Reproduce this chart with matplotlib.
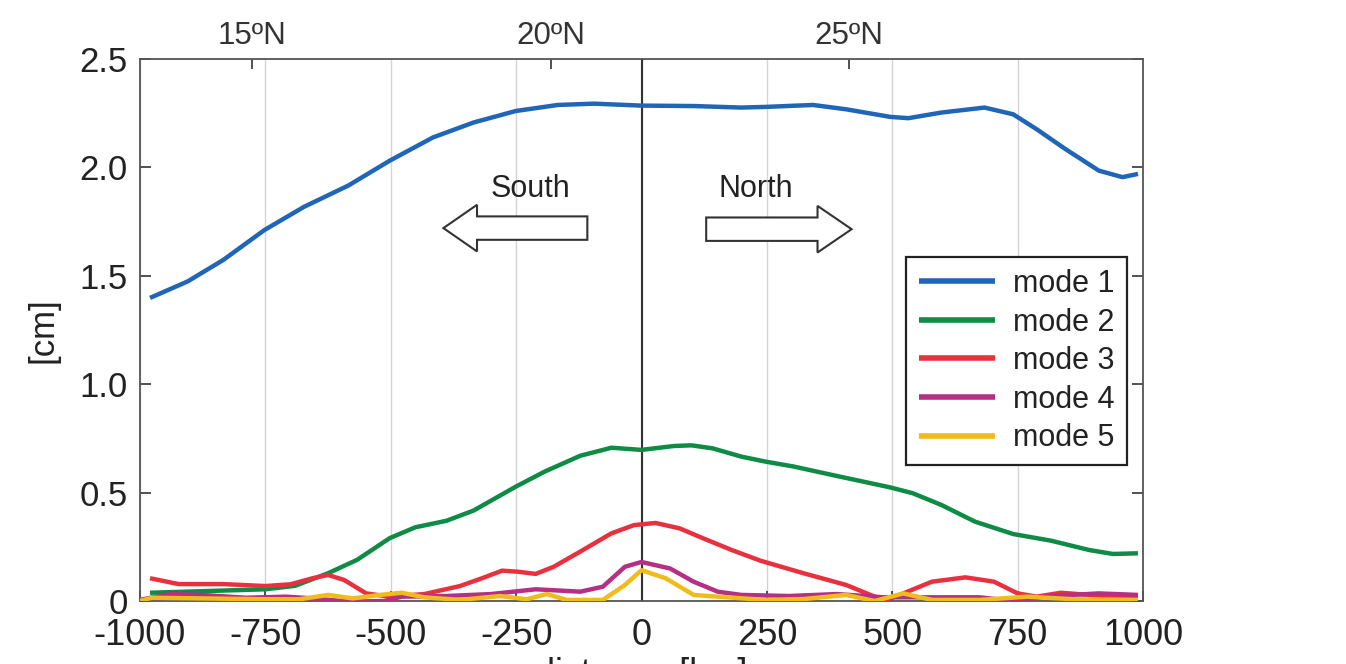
import matplotlib
matplotlib.use("Agg")
import matplotlib.pyplot as plt
from matplotlib.patches import FancyArrow

plt.rcParams["font.family"] = ["Liberation Sans", "DejaVu Sans"]
plt.rcParams["axes.unicode_minus"] = False

# along-track distance (km) and amplitude (cm) of each mode
x1 = [-980, -905, -834, -752, -673, -584, -502, -416, -335, -251, -167, -95, 0,
      104, 199, 247, 342, 408, 496, 532, 598, 684, 741, 788, 845, 912, 959, 990]
mode1 = [1.398, 1.474, 1.573, 1.711, 1.818, 1.917, 2.031, 2.138, 2.207, 2.260, 2.288, 2.294, 2.285,
         2.283, 2.276, 2.279, 2.288, 2.268, 2.233, 2.227, 2.253, 2.276, 2.245, 2.176, 2.085, 1.985, 1.955, 1.970]

x2 = [-980, -750, -691, -625, -567, -502, -451, -389, -335, -251, -193, -122, -60, 0, 65,
      100, 142, 199, 247, 304, 389, 496, 541, 598, 665, 741, 817, 893, 940, 990]
mode2 = [0.038, 0.054, 0.070, 0.128, 0.190, 0.290, 0.340, 0.370, 0.417, 0.527, 0.597, 0.670, 0.707, 0.697, 0.715,
         0.718, 0.704, 0.666, 0.643, 0.620, 0.577, 0.524, 0.497, 0.443, 0.366, 0.309, 0.278, 0.235, 0.217, 0.220]

x3 = [-980, -923, -834, -750, -700, -656, -625, -593, -549, -502, -433, -362, -318, -278, -246, -211,
      -175, -122, -60, -15, 28, 76, 123, 180, 237, 323, 408, 465, 484, 522, 579, 646, 703, 750,
      788, 836, 893, 940, 990]
mode3 = [0.105, 0.078, 0.078, 0.069, 0.077, 0.105, 0.120, 0.097, 0.035, 0.020, 0.032, 0.069, 0.105, 0.140, 0.135, 0.125,
         0.158, 0.228, 0.312, 0.350, 0.360, 0.335, 0.289, 0.235, 0.186, 0.128, 0.074, 0.020, 0.000, 0.035, 0.089, 0.109, 0.089, 0.035,
         0.020, 0.038, 0.028, 0.020, 0.023]

x4 = [-1000, -940, -878, -789, -709, -656, -584, -513, -478, -389, -300, -211, -122, -77, -33, 0,
      57, 104, 152, 199, 294, 389, 484, 579, 674, 741, 817, 912, 990]
mode4 = [0.005, 0.032, 0.028, 0.015, 0.020, 0.012, -0.003, 0.000, 0.020, 0.023, 0.032, 0.054, 0.043, 0.066, 0.158, 0.180,
         0.150, 0.089, 0.043, 0.028, 0.023, 0.032, 0.017, 0.017, 0.017, 0.000, 0.023, 0.035, 0.028]

x5 = [-1000, -976, -878, -745, -682, -625, -576, -522, -478, -433, -362, -282, -229, -189, -149, -77, -33, 0,
      48, 104, 152, 247, 323, 408, 465, 522, 579, 674, 769, 864, 990]
mode5 = [0.000, 0.015, 0.012, 0.008, 0.008, 0.028, 0.012, 0.028, 0.038, 0.017, 0.005, 0.023, 0.008, 0.032, 0.005, 0.005, 0.074, 0.142,
         0.105, 0.028, 0.020, 0.005, 0.009, 0.028, 0.000, 0.035, 0.005, 0.005, 0.020, 0.008, 0.005]

series = [(x1, mode1, "mode 1", "#1f66b8"),
          (x2, mode2, "mode 2", "#0e8c45"),
          (x3, mode3, "mode 3", "#e8313f"),
          (x4, mode4, "mode 4", "#b52f85"),
          (x5, mode5, "mode 5", "#efbc1c")]

xticks = [-1000, -750, -500, -250, 0, 250, 500, 750, 1000]
yticks = [0, 0.5, 1.0, 1.5, 2.0, 2.5]
ytick_labels = ["0", "0.5", "1.0", "1.5", "2.0", "2.5"]
lat_km = [-776, -181, 413]
lat_labels = ["15ºN", "20ºN", "25ºN"]

EDGE = "#555555"

fig = plt.figure(figsize=(13.46, 6.64), dpi=100)
ax = fig.add_axes([140 / 1346, 63 / 664, 1003 / 1346, 542 / 664])

for xs, ys, label, color in series:
    ax.plot(xs, ys, color=color, lw=3.2, label=label,
            solid_joinstyle="round", solid_capstyle="butt", zorder=3)

ax.axvline(0, color="#333333", lw=1.5, zorder=2)

ax.set_xlim(-1000, 1000)
ax.set_ylim(0, 2.5)
ax.set_xticks(xticks)
ax.set_yticks(yticks)
ax.set_yticklabels(ytick_labels)
ax.grid(axis="x", color="#d4d4d4", lw=1.0, zorder=0)
ax.tick_params(axis="x", direction="in", length=7, width=1.2, color="#333333",
               labelsize=26, labelcolor="#222222", pad=12, top=False)
ax.tick_params(axis="y", direction="in", length=8, width=1.2, color="#333333",
               labelsize=25, labelcolor="#222222", pad=9, right=True)
for s in ax.spines.values():
    s.set_color(EDGE)
    s.set_linewidth(1.3)

ax.set_ylabel("[cm]", fontsize=25, labelpad=14, color="#222222")
ax.set_xlabel("distance [km]", fontsize=26, labelpad=3, color="#222222")

# latitude reference along the top edge
top = ax.secondary_xaxis("top")
top.set_xticks(lat_km)
top.set_xticklabels(lat_labels)
top.tick_params(direction="in", length=7.5, width=1.2, color="#333333",
                labelsize=22.5, labelcolor="#333333", pad=6)
top.spines["top"].set_visible(False)

# direction arrows
ax.add_patch(FancyArrow(-108, 1.72, -287, 0, width=0.108, head_width=0.215,
                        head_length=67, length_includes_head=True,
                        facecolor="white", edgecolor="#333333", lw=1.5, zorder=4))
ax.add_patch(FancyArrow(129, 1.715, 290, 0, width=0.108, head_width=0.215,
                        head_length=68, length_includes_head=True,
                        facecolor="white", edgecolor="#333333", lw=1.5, zorder=4))
ax.text(-222, 1.90, "South", fontsize=22, ha="center", va="center", color="#222222")
ax.text(227, 1.90, "North", fontsize=22, ha="center", va="center", color="#222222")

leg = ax.legend(loc="upper right", bbox_to_anchor=(0.984, 0.635), borderaxespad=0,
                fontsize=22, handlelength=2.5, handletextpad=0.6, labelspacing=0.28,
                fancybox=False, framealpha=1, edgecolor="#222222")
leg.get_frame().set_linewidth(1.6)
for t in leg.get_texts():
    t.set_color("#222222")
for h in leg.get_lines():
    h.set_linewidth(4)

fig.savefig("out.png", dpi=100)
